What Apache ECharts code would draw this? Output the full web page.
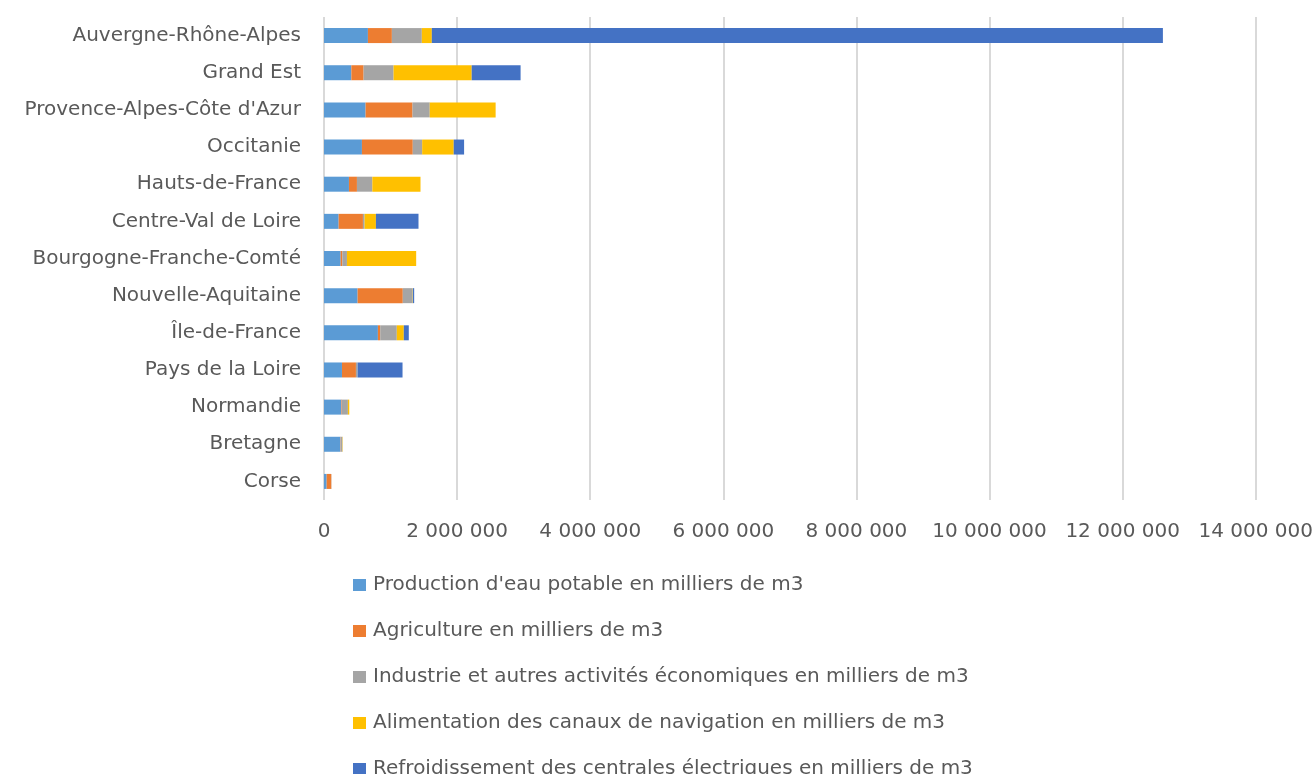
<!DOCTYPE html>
<html><head><meta charset="utf-8">
<script src="https://cdn.jsdelivr.net/npm/echarts@6/dist/echarts.min.js"></script>
<style>html,body{margin:0;padding:0;background:#fff}#c{width:1316px;height:774px}</style>
</head><body><div id="c"></div>
<script>
const categories = ["Auvergne-Rhône-Alpes","Grand Est","Provence-Alpes-Côte d'Azur","Occitanie","Hauts-de-France","Centre-Val de Loire","Bourgogne-Franche-Comté","Nouvelle-Aquitaine","Île-de-France","Pays de la Loire","Normandie","Bretagne","Corse"];
const eauPotable   = [660000, 411000, 625000, 570000, 375000, 220000, 250000, 505000, 810000, 270000, 261000, 246000, 40000];
const agriculture  = [360000, 184000, 705000, 764000, 120000, 365000, 26000, 679000, 35000, 210000, 8000, 5000, 70000];
const industrie    = [450000, 450000, 259000, 141000, 231000, 25000, 69000, 146000, 249000, 25000, 90000, 25000, 3000];
const canaux       = [150000, 1174000, 990000, 474000, 724000, 170000, 1040000, 5000, 105000, 0, 21000, 5000, 0];
const centrales    = [10985000, 735000, 0, 156000, 0, 640000, 0, 20000, 75000, 675000, 0, 0, 0];
const seriesNames = ["Production d'eau potable en milliers de m3","Agriculture en milliers de m3","Industrie et autres activités économiques en milliers de m3","Alimentation des canaux de navigation en milliers de m3","Refroidissement des centrales électriques en milliers de m3"];
const seriesData = [eauPotable, agriculture, industrie, canaux, centrales];
const colors = ["#5B9BD5","#ED7D31","#A5A5A5","#FFC000","#4472C4"];
const xTicks = {min:0, max:14000000, interval:2000000};

const font = "DejaVu Sans";
const fs = 20;
const chart = echarts.init(document.getElementById('c'));
chart.setOption({
  animation:false,
  color:colors,
  textStyle:{fontFamily:font},
  grid:{left:324,right:58,top:17,bottom:274,containLabel:false},
  xAxis:{type:'value',min:xTicks.min,max:xTicks.max,interval:xTicks.interval,
    axisLine:{show:false},axisTick:{show:false},
    splitLine:{lineStyle:{color:'#d9d9d9',width:2}},
    axisLabel:{color:'#595959',fontSize:fs,fontFamily:font,margin:22,
      formatter:v=>String(v).replace(/\B(?=(\d{3})+(?!\d))/g,' ')}},
  yAxis:{type:'category',data:categories,inverse:true,
    axisLine:{show:false},axisTick:{show:false},splitLine:{show:false},
    axisLabel:{color:'#595959',fontSize:fs,fontFamily:font,margin:23}},
  legend:{orient:'vertical',left:348,top:570,height:400,icon:'rect',itemWidth:13,itemHeight:12,itemGap:26,
    textStyle:{color:'#595959',fontSize:fs,fontFamily:font,lineHeight:20,padding:[0,0,0,2]},
    data:seriesNames},
  series:seriesNames.map((n,i)=>({name:n,type:'bar',stack:'total',data:seriesData[i],
    barWidth:15,itemStyle:{color:colors[i]}}))
});
</script></body></html>
